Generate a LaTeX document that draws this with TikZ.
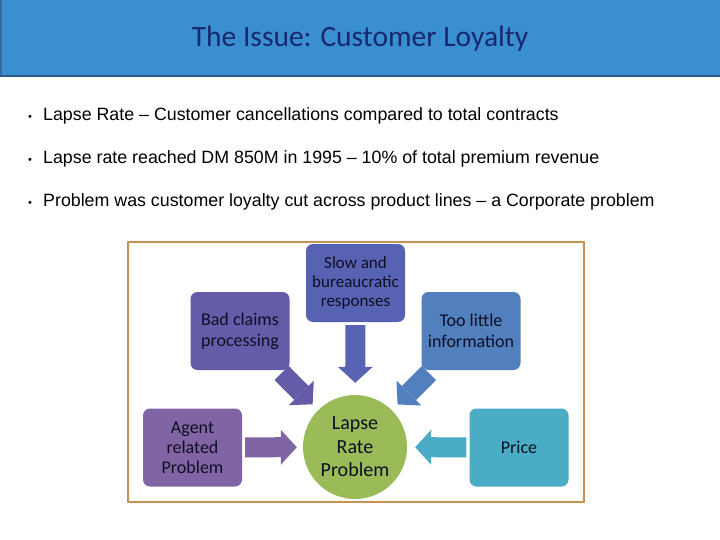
\documentclass[tikz,border=0pt]{standalone}
\usepackage{fontspec}
\setmainfont{Carlito}
\newfontfamily\arialfont{Liberation Sans}
\usetikzlibrary{arrows.meta}
\definecolor{TitleBlue}{RGB}{58,143,208}
\definecolor{TitleEdge}{RGB}{47,90,140}
\definecolor{TitleText}{RGB}{24,40,110}
\definecolor{FrameTan}{RGB}{200,145,80}
\definecolor{BoxText}{RGB}{15,15,35}
\definecolor{ClaimsPurple}{RGB}{100,92,168}
\definecolor{SlowIndigo}{RGB}{88,98,178}
\definecolor{InfoBlue}{RGB}{82,128,190}
\definecolor{AgentPurple}{RGB}{128,100,164}
\definecolor{PriceAqua}{RGB}{75,172,198}
\definecolor{LapseGreen}{RGB}{155,187,89}

\begin{document}
\begin{tikzpicture}[x=1pt,y=-1pt,line join=round]
  \path[use as bounding box] (0,0) rectangle (720,540);
  \fill[white] (0,0) rectangle (720,540);

  \tikzset{
    bullettext/.style={anchor=base west,inner sep=0pt,text=black,
      font=\arialfont\fontsize{17.8pt}{17.8pt}\selectfont},
    causebox/.style={rounded corners=7pt,minimum width=99pt,minimum height=78pt,
      inner sep=2pt,align=center,text=BoxText,
      font=\fontsize{18pt}{21pt}\selectfont},
    blockarrow/.style={line width=20pt,shorten <=4pt,shorten >=8pt,
      -{Triangle[length=16pt,width=35pt,line width=0pt]}},
  }

  % ==================== TITLE ====================
  \fill[TitleBlue] (0,0) rectangle (720,77);
  \draw[TitleEdge,line width=2pt] (0,76) -- (720,76);
  \draw[TitleEdge!70!TitleBlue,line width=1.5pt] (1,0) -- (1,75);
  \node[text=TitleText,font=\fontsize{29.5pt}{29.5pt}\selectfont] (title) at (360,39) {The Issue: Customer Loyalty};

  % ==================== BULLETS ====================
  \foreach \y/\txt in {115/{Lapse Rate – Customer cancellations compared to total contracts},
                       158/{Lapse rate reached DM 850M in 1995 – 10\% of total premium revenue},
                       201/{Problem was customer loyalty cut across product lines – a Corporate problem}} {
    \node[bullettext,font=\arialfont\fontsize{11pt}{11pt}\selectfont] at (28,\y+5.5) {\textbullet};
    \node[bullettext] at (43,\y+6) {\txt};
  }

  % ==================== DIAGRAM ====================
  \draw[FrameTan,line width=2.5pt] (128,242) rectangle (584,502);

  \node[causebox,fill=ClaimsPurple] (claims) at (240,331) {Bad claims\\processing};
  \node[causebox,fill=SlowIndigo,font=\fontsize{17pt}{19pt}\selectfont] (slow) at (355.5,283) {Slow and\\bureaucratic\\responses};
  \node[causebox,fill=InfoBlue] (info) at (471,331) {Too little\\information};
  \node[causebox,fill=AgentPurple,font=\fontsize{18pt}{20pt}\selectfont] (agent) at (192.5,447.5) {Agent\\related\\Problem};
  \node[causebox,fill=PriceAqua] (price) at (519,447.5) {Price};

  \node[circle,fill=LapseGreen,minimum size=104pt,inner sep=0pt,align=center,text=BoxText,
    font=\fontsize{20pt}{23.5pt}\selectfont] (lapse) at (355,447) {Lapse\\Rate\\Problem};

  % Arrows into the lapse rate circle
  \draw[blockarrow,ClaimsPurple] (claims) -- (lapse);
  \draw[blockarrow,SlowIndigo,shorten <=3pt,shorten >=12pt] (slow) -- (lapse);
  \draw[blockarrow,InfoBlue] (info) -- (lapse);
  \draw[blockarrow,AgentPurple,shorten <=3pt,shorten >=6pt] (agent) -- (lapse);
  \draw[blockarrow,PriceAqua,shorten <=3pt,shorten >=8pt] (price) -- (lapse);

\end{tikzpicture}
\end{document}
